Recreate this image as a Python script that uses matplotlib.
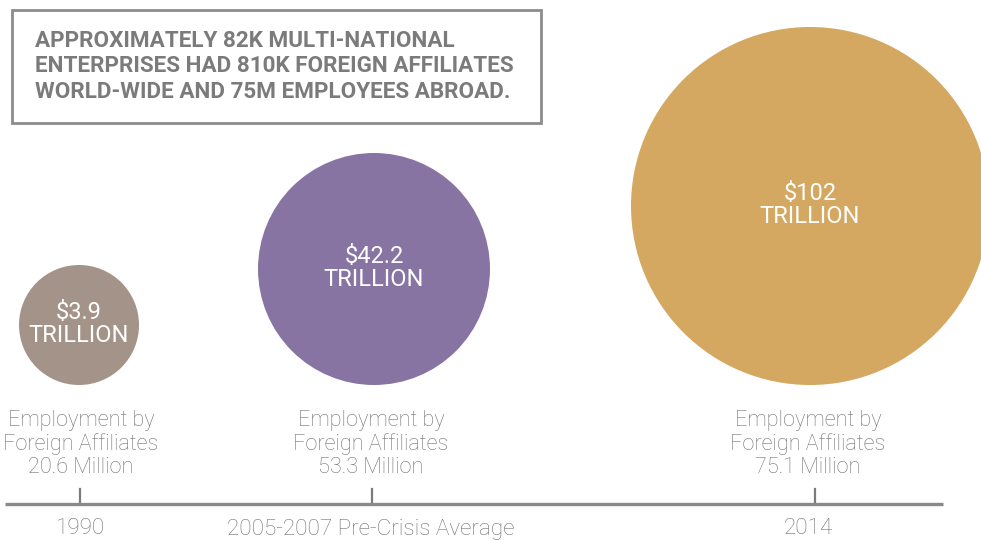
import matplotlib
matplotlib.use('Agg')
import matplotlib.pyplot as plt
from matplotlib.patches import Circle, Rectangle

periods = ['1990', '2005-2007 Pre-Crisis Average', '2014']
value_trillion = [3.9, 42.2, 102]
employment_million = [20.6, 53.3, 75.1]
headline = ('APPROXIMATELY 82K MULTI-NATIONAL\n'
            'ENTERPRISES HAD 810K FOREIGN AFFILIATES\n'
            'WORLD-WIDE AND 75M EMPLOYEES ABROAD.')

# layout (pixel units, origin top-left)
tick_x = [80, 372, 815]
label_x = [81, 371, 808]
circle_x = [79, 374, 810]
circle_r = [60, 116, 179]
circle_bottom = 385
colors = ['#a39389', '#8874a3', '#d4a860']
grey = '#7b7b7b'

plt.rcParams['font.family'] = ['Roboto', 'DejaVu Sans']

fig = plt.figure(figsize=(9.81, 5.40), dpi=100)
ax = fig.add_axes([0, 0, 1, 1])
ax.set_xlim(0, 981)
ax.set_ylim(540, 0)
ax.axis('off')

# headline box
ax.add_patch(Rectangle((12, 10), 529, 113, fill=False, edgecolor='#8c8c8c', lw=2))
ax.text(35, 30, headline, ha='left', va='top', fontsize=16.2, fontweight='bold',
        color=grey, linespacing=1.2)

for i, v in enumerate(value_trillion):
    cy = circle_bottom - circle_r[i]
    ax.add_patch(Circle((circle_x[i], cy), circle_r[i], color=colors[i], lw=0))
    lbl = '$%g\nTRILLION' % v
    ax.text(circle_x[i], cy - 1, lbl, ha='center', va='center', fontsize=17,
            color='white', linespacing=0.98)
    ax.text(label_x[i], 444, 'Employment by\nForeign Affiliates\n%.1f Million' % employment_million[i],
            ha='center', va='center', fontsize=15.6, fontweight='light', color='#727272',
            linespacing=1.13)
    ax.plot([tick_x[i], tick_x[i]], [489, 503], color=grey, lw=1.6)
    ax.text(label_x[i], 529, periods[i], ha='center', va='center', fontsize=16.2,
            fontweight='light', color='#727272')

# timeline
ax.plot([5, 943], [504, 504], color='#8a8a8a', lw=2.4, solid_capstyle='butt')

fig.savefig('out.png', dpi=100)
